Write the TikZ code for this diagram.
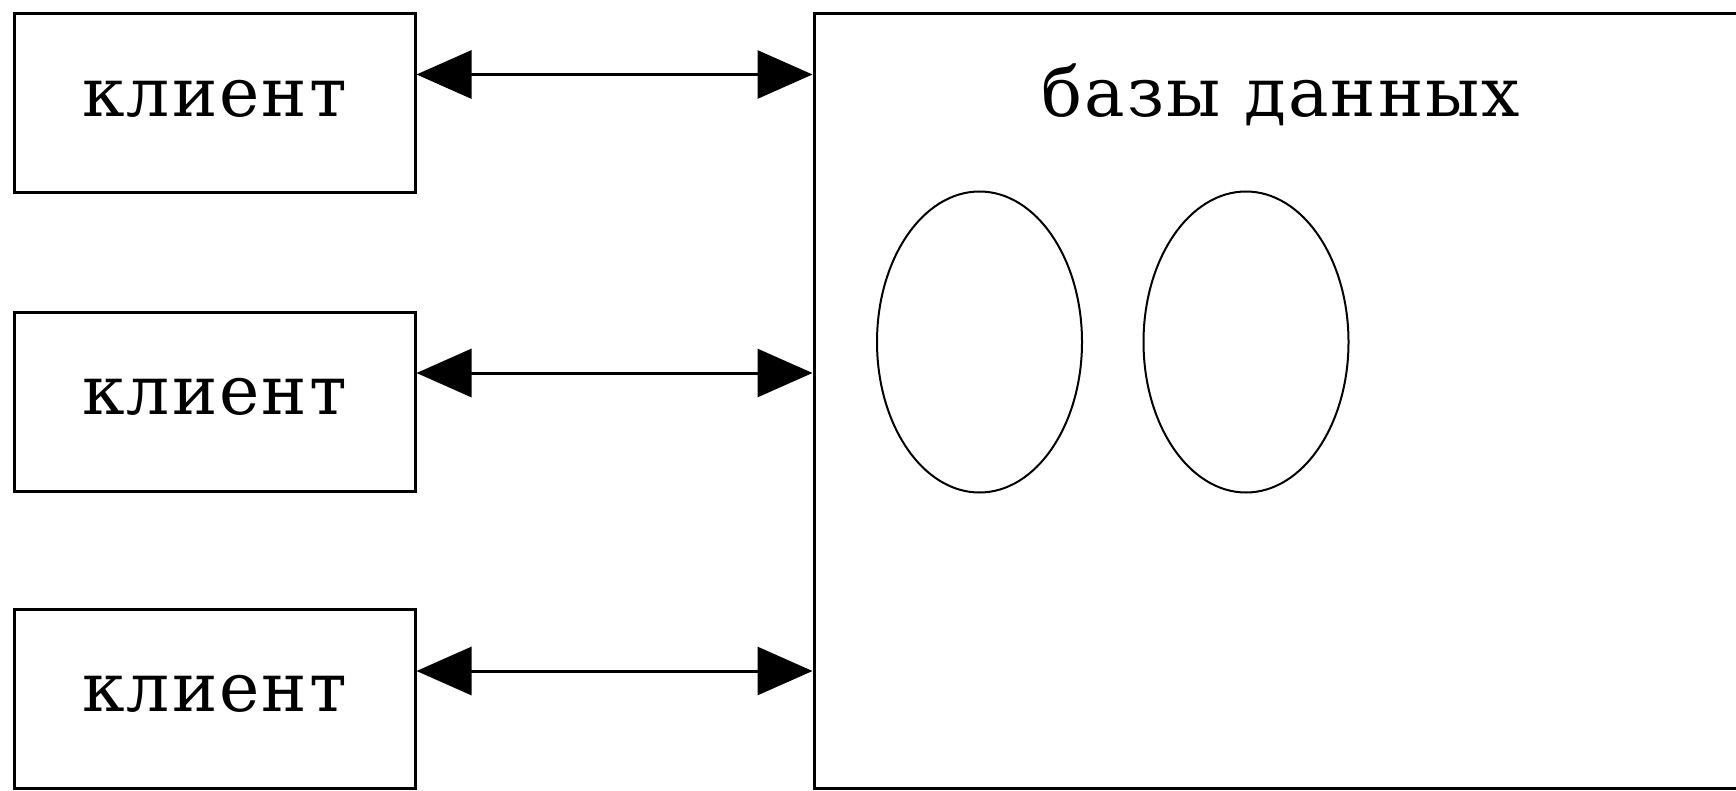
\documentclass[tikz,border=0pt]{standalone}
\usepackage{fontspec}
\setmainfont[LetterSpace=3]{DejaVu Serif}
\usetikzlibrary{arrows.meta,shapes.geometric}
\tikzset{
  client/.style={draw, line width=3pt, minimum width=401pt, minimum height=179pt, inner sep=0pt,
    font=\fontsize{68pt}{80pt}\selectfont, text depth=11pt},
  dbbox/.style={draw, line width=3pt, minimum width=946pt, minimum height=774pt, inner sep=0pt},
  dbstore/.style={draw, ellipse, line width=2pt, minimum width=205pt, minimum height=301pt, inner sep=0pt},
  lbl/.style={font=\fontsize{68pt}{80pt}\selectfont, inner sep=0pt, anchor=base},
  bi/.style={line width=3pt, {Triangle[length=55pt,width=48pt]}-{Triangle[length=55pt,width=48pt]}}
}
\begin{document}
\begin{tikzpicture}[x=1pt,y=-1pt]
\useasboundingbox (0,0) rectangle (1736,791);
\node[client] (c1) at (214.5,103.5) {клиент};
\node[client] (c2) at (214.5,402) {клиент};
\node[client] (c3) at (214.5,699) {клиент};
\node[dbbox] (db) at (1287,401) {};
\node[lbl] (dbl) at (1281,117) {базы данных};
\node[dbstore] (e1) at (979.5,342) {};
\node[dbstore] (e2) at (1246,342) {};
\draw[bi] ([yshift=29pt]c1.east) -- ([yshift=29pt]c1.east -| db.west);
\draw[bi] ([yshift=29pt]c2.east) -- ([yshift=29pt]c2.east -| db.west);
\draw[bi] ([yshift=28pt]c3.east) -- ([yshift=28pt]c3.east -| db.west);
\end{tikzpicture}
\end{document}
